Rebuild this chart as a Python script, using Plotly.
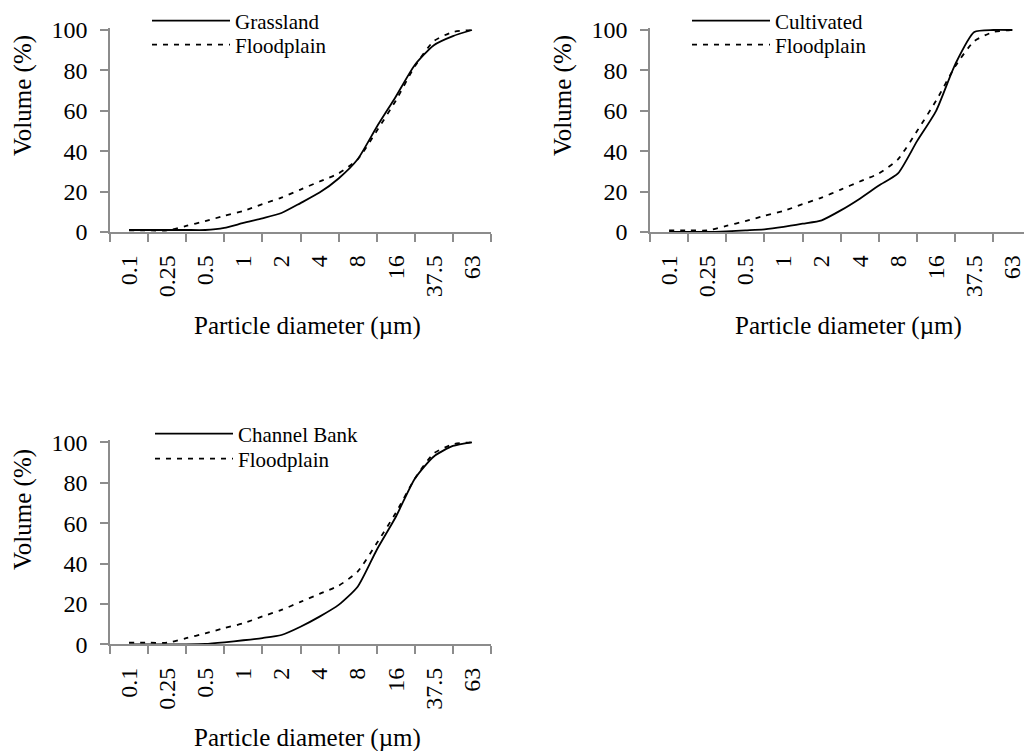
import plotly.graph_objects as go

# ---------------- data ----------------
CATEGORIES = ["0.1", "0.25", "0.5", "1", "2", "4", "8", "16", "37.5", "63"]
# sample positions on the category axis (category index, half steps)
POSITIONS = [0, 0.5, 1, 1.5, 2, 2.5, 3, 3.5, 4, 4.5, 5, 5.5, 6, 6.5, 7, 7.5, 8, 8.5, 9]

GRASSLAND = [1, 1, 1, 1, 1, 2, 4.5, 6.8, 9.4, 14.3, 19.5, 26.5, 36, 52, 67, 82.7, 92.5, 97, 100]
CULTIVATED = [0, 0, 0, 0.3, 0.8, 1.3, 2.5, 4.1, 5.8, 10.7, 16.5, 23, 29, 45, 60, 83, 99, 100, 100]
CHANNEL_BANK = [0, 0, 0, 0, 0.2, 1, 2, 3.1, 4.6, 8.7, 13.7, 19.5, 28.5, 46.7, 63, 82, 93, 98.2, 100]
FLOODPLAIN = [0.8, 0.8, 0.8, 3, 5.4, 8, 10.4, 13.8, 17, 21, 25, 29, 36, 50, 65, 82, 94.5, 99, 100]

PANELS = [
    ("Grassland", GRASSLAND),
    ("Cultivated", CULTIVATED),
    ("Channel Bank", CHANNEL_BANK),
]

Y_TICKS = [0, 20, 40, 60, 80, 100]

# ---------------- layout helpers ----------------
W, H = 1024, 751
FONT = "Liberation Serif"
AXIS_GRAY = "#8c8c8c"


def fx(px):
    return px / W


def fy(py):
    return 1 - py / H


# pixel geometry of each panel: (left, right, y_of_100, y_of_0, x_range_end)
GEOM = [
    (110, 491, 30, 232, 9.5),
    (650, 1024, 30, 232, -0.5 + (1024 - 650) / 38.15),
    (110, 491, 442.3, 644.3, 9.5),
]
YMAX = 101  # a bit of head-room so the 100 % line is not clipped

# legend placement: (x of line sample start, y centre of row 1, y centre of row 2)
LEGEND_POS = [(152, 21, 45), (692, 21, 45), (155, 434, 459)]

fig = go.Figure()

for i, ((name, vals), (l, r, y100, y0, xend)) in enumerate(zip(PANELS, GEOM)):
    k = "" if i == 0 else str(i + 1)
    lg_a = "legend" if i == 0 else f"legend{2 * i + 1}"
    lg_b = f"legend{2 * i + 2}"
    fig.add_trace(go.Scatter(
        x=POSITIONS, y=vals, mode="lines", name=name,
        line=dict(color="black", width=1.8, shape="spline", smoothing=0.6),
        xaxis="x" + k, yaxis="y" + k, legend=lg_a,
    ))
    fig.add_trace(go.Scatter(
        x=POSITIONS, y=FLOODPLAIN, mode="lines", name="Floodplain",
        line=dict(color="black", width=1.8, dash="5px,6px", shape="spline", smoothing=0.6),
        xaxis="x" + k, yaxis="y" + k, legend=lg_b,
    ))

    ppu = (y0 - y100) / 100.0
    top_px = y0 - YMAX * ppu

    fig.layout["xaxis" + k] = dict(
        domain=[fx(l), fx(r) if r < W else 1.0],
        range=[-0.5, xend],
        anchor="y" + k,
        tickmode="array", tickvals=list(range(len(CATEGORIES))), ticktext=CATEGORIES,
        tickangle=-90,
        ticks="outside", ticklen=12, tickcolor="rgba(0,0,0,0)",
        ticklabeloverflow="allow",
        minor=dict(tickmode="array", tickvals=[j - 0.5 for j in range(len(CATEGORIES) + 1)],
                   ticks="outside", ticklen=8, tickcolor=AXIS_GRAY, tickwidth=1.5),
        showline=True, linecolor=AXIS_GRAY, linewidth=1.5,
        showgrid=False, zeroline=False,
        tickfont=dict(family=FONT, size=24, color="black"),
        fixedrange=True,
    )
    fig.layout["yaxis" + k] = dict(
        domain=[fy(y0), fy(top_px)],
        range=[0, YMAX],
        anchor="x" + k,
        tickmode="array", tickvals=Y_TICKS,
        ticks="outside", ticklen=8, tickcolor=AXIS_GRAY, tickwidth=1.5,
        ticklabelstandoff=8,
        showline=True, linecolor=AXIS_GRAY, linewidth=1.5,
        showgrid=False, zeroline=False,
        tickfont=dict(family=FONT, size=24, color="black"),
        fixedrange=True,
    )

    lx, ly1, ly2 = LEGEND_POS[i]
    for key, ly in ((lg_a, ly1), (lg_b, ly2)):
        fig.layout[key] = dict(
            x=fx(lx - 5), y=fy(ly), xanchor="left", yanchor="middle",
            bgcolor="rgba(0,0,0,0)", borderwidth=0,
            font=dict(family=FONT, size=21, color="black"),
            itemwidth=78,
        )

# axis titles as annotations
annots = []
Y_TITLES = [(23, 96), (563, 96), (23, 510)]
X_TITLES = [(307, 326), (848, 326), (307, 738)]
for (ax, ay) in Y_TITLES:
    annots.append(dict(text="Volume (%)", x=fx(ax), y=fy(ay), xref="paper", yref="paper",
                       showarrow=False, textangle=-90, xanchor="center", yanchor="middle",
                       font=dict(family=FONT, size=25, color="black")))
for (ax, ay) in X_TITLES:
    annots.append(dict(text="Particle diameter (µm)", x=fx(ax), y=fy(ay), xref="paper", yref="paper",
                       showarrow=False, xanchor="center", yanchor="middle",
                       font=dict(family=FONT, size=25, color="black")))

fig.update_layout(
    width=W, height=H,
    margin=dict(l=0, r=0, t=0, b=0, autoexpand=False),
    paper_bgcolor="white", plot_bgcolor="white",
    showlegend=True,
    annotations=annots,
    font=dict(family=FONT, color="black"),
)

fig.write_html("out.html", config={"displayModeBar": False})
